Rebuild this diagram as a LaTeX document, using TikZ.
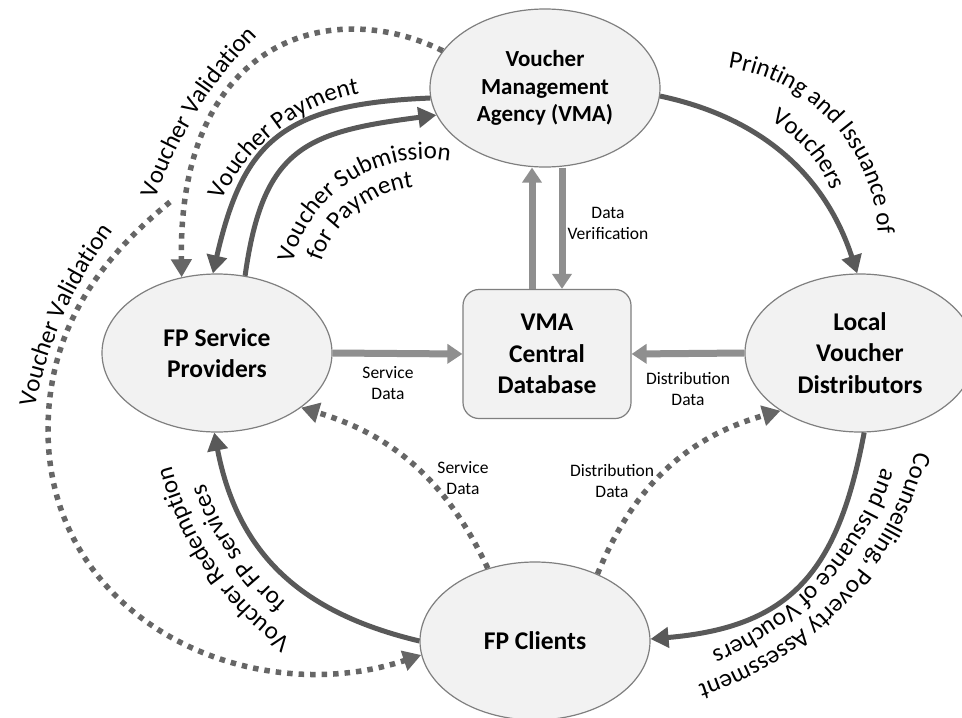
\documentclass[tikz,border=0pt]{standalone}
\usepackage{fontspec}
\setmainfont{Carlito}
\usetikzlibrary{arrows.meta}
\usetikzlibrary{shapes.geometric}
\usetikzlibrary{decorations.text}
\usetikzlibrary{calc}
\usetikzlibrary{positioning}
\definecolor{nodefill}{HTML}{F2F2F2}
\definecolor{nodeline}{HTML}{7F7F7F}
\definecolor{darkarr}{HTML}{595959}
\definecolor{dotgray}{HTML}{666666}
\definecolor{lightgray}{HTML}{8F8F8F}
\newcommand{\arcfont}{\fontsize{25}{29}\selectfont}
\newcommand{\vmafont}{\fontsize{23}{27.5}\selectfont\bfseries}
\tikzset{>={Triangle[length=18pt,width=20pt]}, auto}
\tikzset{agent/.style={ellipse, draw=nodeline, fill=nodefill, line width=1.2pt, minimum width=230pt, minimum height=158pt, inner sep=0pt, align=center, font=\fontsize{25.5}{31.5}\selectfont\bfseries},
  dbbox/.style={rectangle, rounded corners=16pt, draw=nodeline, fill=nodefill, line width=1.2pt, minimum width=168pt, minimum height=129pt, inner sep=0pt, align=center, font=\fontsize{25.5}{31.5}\selectfont\bfseries},
  solidarr/.style={->, draw=darkarr, line width=5pt},
  lightarr/.style={->, draw=lightgray, line width=7pt, >={Triangle[length=15pt,width=19pt]}},
  dotarr/.style={->, draw=dotgray, line width=5.5pt, dash pattern=on 5.5pt off 6pt},
  lbl/.style={inner sep=0pt, align=center, font=\fontsize{17.5}{21}\selectfont},
  arctext/.style={decorate, decoration={text along path, text align=center, text={|\arcfont|#1}}}}

\begin{document}
\begin{tikzpicture}[x=1pt, y=-1pt]
\path[use as bounding box, fill=white] (0,0) rectangle (962,718);
% actors
\node[agent, font=\vmafont] (vma) at (545,88) {Voucher\\Management\\Agency (VMA)};
\node[agent] (fpsp) at (217,353) {FP Service\\Providers};
\node[agent] (lvd) at (860,353) {Local\\Voucher\\Distributors};
\node[agent] (fpc) at (535,641) {FP Clients};
\node[dbbox] (db) at (547,354) {VMA\\Central\\Database};
\coordinate (vvsplit) at (170,202);
% voucher flow
\draw[solidarr] (vma.-4) to[bend left=30] (lvd.92);
\draw[solidarr] (lvd.-87) .. controls (838,572) and (791,627) .. (fpc.1);
\draw[solidarr] (fpc.180) .. controls (302,613) and (238,555) .. (fpsp.-92);
\draw[solidarr] (vma.185) .. controls (280,104) and (243,143) .. (fpsp.93);
\draw[solidarr] (fpsp.70) .. controls (263,147) and (306,132) .. (vma.194);
% data to the database
\draw[lightarr] ([xshift=-15pt]db.north) -- ([xshift=-15pt]db.north |- vma.south);
\draw[lightarr] ([xshift=15pt]db.north |- vma.south) -- ([xshift=15pt]db.north);
\draw[lightarr] (fpsp.east) -- (db.west);
\draw[lightarr] (lvd.west) -- (db.east);
% validation and data links
\draw[dotarr] (vma.160) .. controls (330,-5) and (178,40) .. (fpsp.115);
\draw[dotarr] (vvsplit) .. controls (110,251) and (48,320) .. (48,430) .. controls (48,620) and (250,712) .. (fpc.187);
\draw[dotarr] (fpc.123) to[bend right=24] (fpsp.-33);
\draw[dotarr] (fpc.47) to[bend left=26] (lvd.216);
% small labels
\node[lbl] (verlbl) at (608,223) {Data\\Verification};
\node[lbl] (svclbl) at (388,383) {Service\\Data};
\node[lbl] (distlbl) at (688,389) {Distribution\\Data};
\node[lbl] (svclbl2) at (463,478) {Service\\Data};
\node[lbl] (distlbl2) at (612,481) {Distribution\\Data};
% curved labels
\path[arctext={Voucher Validation}] ($(563,340)+(196:431)$) arc[start angle=196, end angle=228, radius=431];
\path[arctext={Voucher Validation}] ($(458,490)+(186:431)$) arc[start angle=186, end angle=222, radius=431];
\path[arctext={Voucher Payment}] ($(396,282)+(196:192)$) arc[start angle=196, end angle=268, radius=192];
\path[arctext={Voucher Submission}] ($(427,298)+(192:139)$) arc[start angle=192, end angle=282, radius=139];
\path[arctext={for Payment}] ($(427,298)+(191:112)$) arc[start angle=191, end angle=271, radius=112];
\path[arctext={Printing and Issuance  of}] ($(703,241)+(268:175)$) arc[start angle=268, end angle=368, radius=175];
\path[arctext={Vouchers}] ($(703,241)+(289:138)$) arc[start angle=289, end angle=349, radius=138];
\path[arctext={Counselling, Poverty Assessment}] ($(596,372)+(13:329)$) arc[start angle=13, end angle=73, radius=329];
\path[arctext={and Issuance of Vouchers}] ($(596,372)+(13:302)$) arc[start angle=13, end angle=73, radius=302];
\path[arctext={Voucher Redemption}] ($(469,390)+(120:307)$) arc[start angle=120, end angle=171, radius=307];
\path[arctext={for FP services}] ($(469,390)+(120:280)$) arc[start angle=120, end angle=171, radius=280];
\end{tikzpicture}
\end{document}
